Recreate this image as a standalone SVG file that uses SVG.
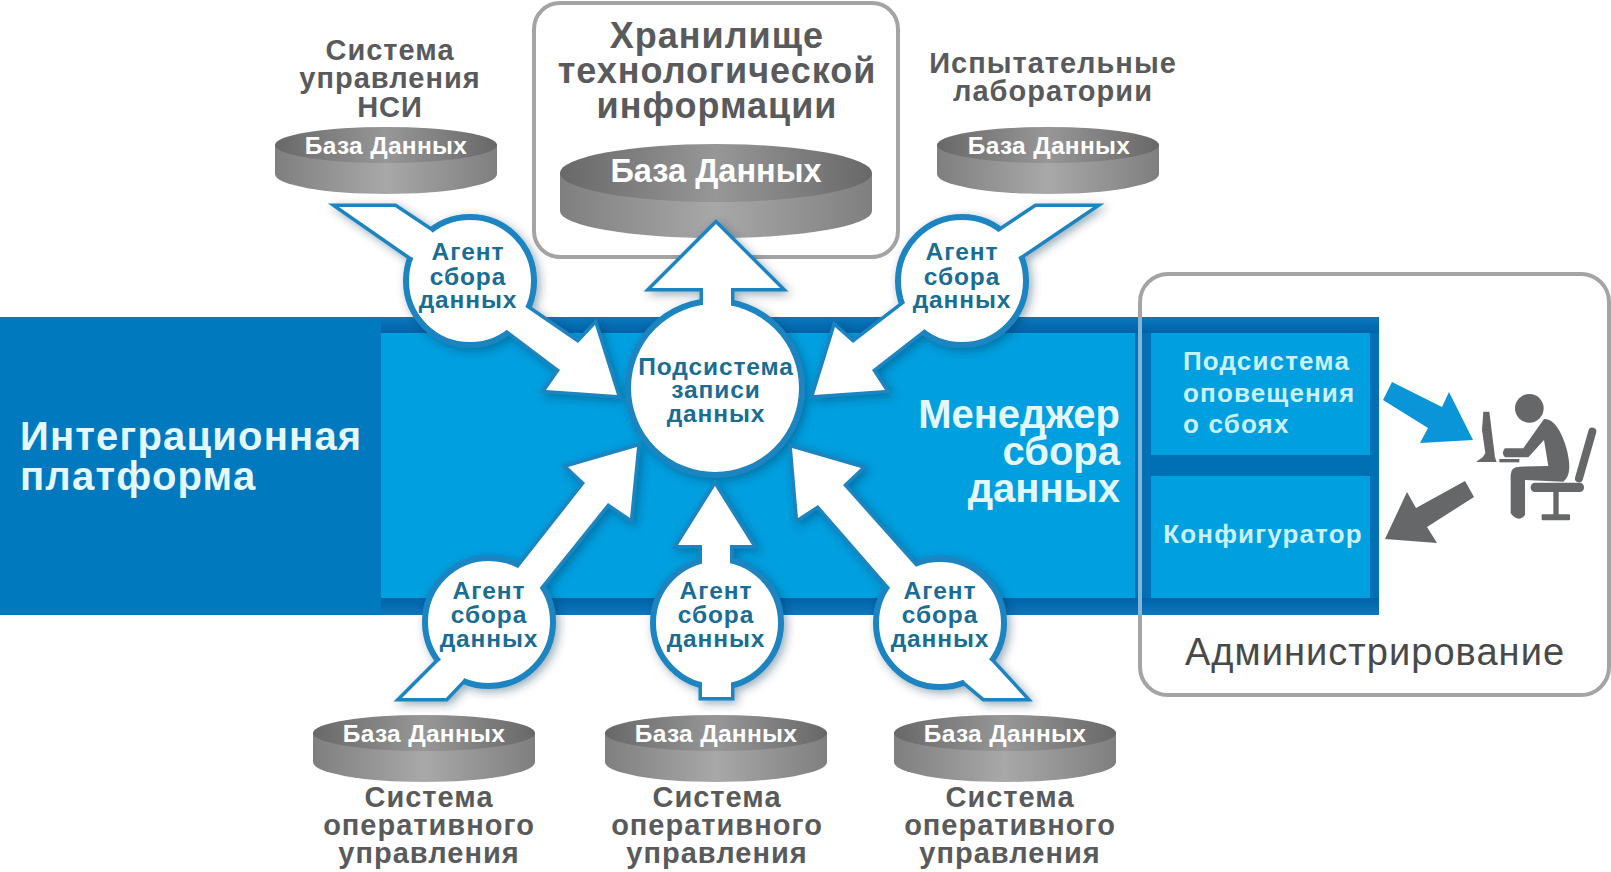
<svg xmlns="http://www.w3.org/2000/svg" width="1611" height="872" viewBox="0 0 1611 872">
<style>
text{font-family:"Liberation Sans",Arial,sans-serif;font-weight:bold}
.lab{font-size:29px;letter-spacing:1px;fill:#595a5c;text-anchor:middle}
.hub{font-size:36px;letter-spacing:1px;fill:#595a5c;text-anchor:middle}
.db{font-size:24.5px;letter-spacing:.3px;fill:#fff;text-anchor:middle}
.ag{font-size:24.5px;letter-spacing:.9px;fill:#1a6d93;text-anchor:middle}
.plat{font-size:40px;letter-spacing:1.2px;fill:#e4f8fc}
.mgr{font-size:40px;fill:#e4f8fc;text-anchor:end}
.box{font-size:26px;letter-spacing:1.15px;fill:#c9f1fa}
.arr{fill:#fff}
.out{fill:#1c84c0;stroke:#1c84c0;stroke-width:7;stroke-linejoin:miter;stroke-miterlimit:8}
.circ{fill:#fff;stroke:#1c84c0;stroke-width:6}
.frame{fill:#fff;stroke:#a4a4a4;stroke-width:4}
.gray{fill:#666768}
</style>
<defs>
<linearGradient id="side"><stop offset="0" stop-color="#7f7f7f"/><stop offset=".5" stop-color="#a8a8a8"/><stop offset="1" stop-color="#7f7f7f"/></linearGradient>
<linearGradient id="top"><stop offset="0" stop-color="#686868"/><stop offset=".5" stop-color="#979797"/><stop offset="1" stop-color="#686868"/></linearGradient>
<linearGradient id="edgeT" x1="0" y1="0" x2="0" y2="1"><stop offset="0" stop-color="#0a78bd"/><stop offset="1" stop-color="#0062a8"/></linearGradient>
<linearGradient id="edgeB" x1="0" y1="0" x2="0" y2="1"><stop offset="0" stop-color="#0062a8"/><stop offset="1" stop-color="#0a78bd"/></linearGradient>
<filter id="sh" x="-20%" y="-20%" width="140%" height="140%"><feDropShadow dx="3" dy="3" stdDeviation="5" flood-color="#003050" flood-opacity=".4"/></filter>
<g id="cyl">
<path d="M0,17 V47 A111,20 0 0 0 222,47 V17 Z" fill="url(#side)"/>
<ellipse cx="111" cy="18" rx="111" ry="18" fill="url(#top)"/>
</g>
<g id="person" class="gray">
<circle cx="178" cy="85" r="43"/>
<path d="M222,117 C255,115 280,165 292,215 C302,260 300,290 280,305 L165,300 L165,405 Q145,430 122,400 L122,285 Q122,260 150,260 L235,258 L222,180 L175,232 L105,232 Q92,218 105,205 L160,205 Z"/>
<rect x="182" y="308" width="160" height="28" rx="13"/>
<path d="M367,155 L327,295" stroke="#666768" stroke-width="24" stroke-linecap="round" fill="none"/>
<rect x="250" y="335" width="16" height="72"/>
<rect x="215" y="403" width="85" height="18" rx="3"/>
<path d="M40,95 L58,95 L75,232 L80,246 L18,246 L38,232 L46,220 L36,150 Z"/>
<rect x="88" y="237" width="60" height="10"/>
</g>
<g id="poly">
<polygon points="339,207 395,207 431,231 440,240 425,262 411,257"/>
<polygon points="524,306 578,343 595,325 617,395 546,390 560,370 503,327"/>
<polygon points="1093,207 1036,207 1000,231 990,238 1010,262 1022,255"/>
<polygon points="905,303 853,343 835,327 814,395 885,390 872,370 926,328"/>
<polygon points="716,224 780,288 731,288 731,315 703,315 703,288 652,288"/>
<polygon points="402,698 446,698 463,680 470,670 447,655 438,662"/>
<polygon points="515,572 585,483 568,467 637,447 630,518 608,503 538,590"/>
<polygon points="1025,698 984,698 965,682 958,672 984,655 992,662"/>
<polygon points="917,568 843,485 861,468 792,448 798,518 818,505 892,590"/>
<polygon points="715,486 752,545 730,545 730,570 702,570 702,545 678,545"/>
<rect x="702" y="672" width="29" height="25"/>
</g>
</defs>
<rect width="1611" height="872" fill="#fff"/>

<g id="hub-frame"><rect class="frame" x="534" y="3" width="364" height="254" rx="26"/></g>
<g id="admin-frame"><rect class="frame" x="1140" y="274" width="469" height="421" rx="28"/></g>

<g id="integration-platform">
<rect x="0" y="317" width="1379" height="298" fill="#0079bf"/>
<rect x="381" y="317" width="998" height="16" fill="url(#edgeT)"/>
<rect x="381" y="598" width="998" height="17" fill="url(#edgeB)"/>
<rect x="1135" y="333" width="244" height="265" fill="#0070b5"/>
<rect x="381" y="333" width="754" height="265" fill="#009fdf"/>
<line x1="1140" y1="317" x2="1140" y2="615" stroke="#85b6d6" stroke-width="4"/>
<text x="20" y="450" class="plat">Интеграционная</text>
<text x="20" y="490" class="plat">платформа</text>
</g>
<g id="collection-manager">
<text x="1120" y="428" class="mgr">Менеджер</text>
<text x="1120" y="465" class="mgr">сбора</text>
<text x="1120" y="502" class="mgr">данных</text>
</g>
<g id="alert-subsystem">
<rect x="1151" y="333" width="219" height="122" fill="#009fdf"/>
<text x="1183" y="370" class="box">Подсистема</text>
<text x="1183" y="402" class="box">оповещения</text>
<text x="1183" y="433" class="box">о сбоях</text>
</g>
<g id="configurator">
<rect x="1151" y="476" width="219" height="122" fill="#009fdf"/>
<text x="1263" y="543" class="box" text-anchor="middle">Конфигуратор</text>
</g>
<g id="admin-label"><text x="1375" y="665" font-size="38" letter-spacing="1.05" fill="#48494b" text-anchor="middle" style="font-weight:normal">Администрирование</text></g>

<g id="db-nsi"><use href="#cyl" x="275" y="127"/><text x="386" y="154" class="db">База Данных</text>
<text x="390" y="60" class="lab">Система</text><text x="390" y="88" class="lab">управления</text><text x="390" y="117" class="lab">НСИ</text></g>
<g id="db-labs"><use href="#cyl" x="937" y="127"/><text x="1049" y="154" class="db">База Данных</text>
<text x="1053" y="73" class="lab">Испытательные</text><text x="1053" y="101" class="lab">лаборатории</text></g>
<g id="db-store">
<path d="M560,173 V211 A156,27 0 0 0 872,211 V173 Z" fill="url(#side)"/>
<ellipse cx="716" cy="173" rx="156" ry="29" fill="url(#top)"/>
<text x="716" y="182" font-size="32.5" fill="#fff" text-anchor="middle">База Данных</text>
<text x="717" y="48" class="hub">Хранилище</text><text x="717" y="83" class="hub">технологической</text><text x="717" y="118" class="hub">информации</text></g>
<g id="db-op1"><use href="#cyl" x="313" y="715"/><text x="424" y="742" class="db">База Данных</text>
<text x="429" y="807" class="lab">Система</text><text x="429" y="835" class="lab">оперативного</text><text x="429" y="863" class="lab">управления</text></g>
<g id="db-op2"><use href="#cyl" x="605" y="715"/><text x="716" y="742" class="db">База Данных</text>
<text x="717" y="807" class="lab">Система</text><text x="717" y="835" class="lab">оперативного</text><text x="717" y="863" class="lab">управления</text></g>
<g id="db-op3"><use href="#cyl" x="894" y="715"/><text x="1005" y="742" class="db">База Данных</text>
<text x="1010" y="807" class="lab">Система</text><text x="1010" y="835" class="lab">оперативного</text><text x="1010" y="863" class="lab">управления</text></g>

<g id="connectors-outline" filter="url(#sh)">
<use href="#poly" class="out"/>
<circle cx="470" cy="281" r="64" class="circ"/><circle cx="962" cy="281" r="64" class="circ"/>
<circle cx="715" cy="388" r="87" class="circ"/>
<circle cx="489" cy="622" r="64" class="circ"/><circle cx="717" cy="623" r="64" class="circ"/><circle cx="940" cy="623" r="64" class="circ"/>
</g>
<g id="connectors"><use href="#poly" class="arr"/>
<polygon points="1392,382 1442,407 1449,392 1473,440 1420,443 1428,428 1383,400" fill="#0a95d8"/>
<polygon points="1465,481 1474,497 1427,527 1437,543 1385,539 1407,492 1416,508" class="gray"/>
</g>

<g id="agent-nsi"><text x="468" y="260" class="ag">Агент</text><text x="468" y="285" class="ag">сбора</text><text x="468" y="308" class="ag">данных</text></g>
<g id="agent-labs"><text x="962" y="260" class="ag">Агент</text><text x="962" y="285" class="ag">сбора</text><text x="962" y="308" class="ag">данных</text></g>
<g id="recorder"><text x="716" y="375" class="ag">Подсистема</text><text x="716" y="398" class="ag">записи</text><text x="716" y="422" class="ag">данных</text></g>
<g id="agent-op1"><text x="489" y="599" class="ag">Агент</text><text x="489" y="623" class="ag">сбора</text><text x="489" y="647" class="ag">данных</text></g>
<g id="agent-op2"><text x="716" y="599" class="ag">Агент</text><text x="716" y="623" class="ag">сбора</text><text x="716" y="647" class="ag">данных</text></g>
<g id="agent-op3"><text x="940" y="599" class="ag">Агент</text><text x="940" y="623" class="ag">сбора</text><text x="940" y="647" class="ag">данных</text></g>

<g id="operator"><use href="#person" transform="translate(1470,380) scale(.3333)"/></g>
</svg>
